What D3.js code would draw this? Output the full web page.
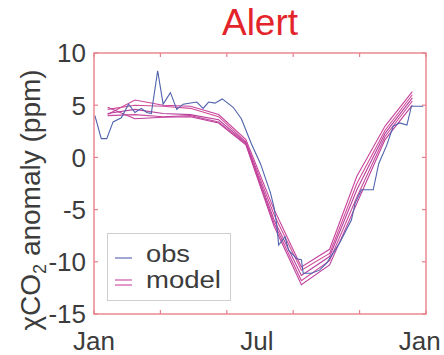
<!DOCTYPE html>
<html>
<head>
<meta charset="utf-8">
<script src="https://cdn.jsdelivr.net/npm/d3@7"></script>
<style>
  body { margin: 0; background: #fff; }
  text { font-family: "Liberation Sans", Arial, sans-serif; }
</style>
</head>
<body>
<div id="chart"></div>
<script>
/* Alert station, seasonal CO2 anomaly: obs vs model */

var title = 'Alert';
var yTicks = [-15, -10, -5, 0, 5, 10];
var xTickDays = [0, 73, 146, 219, 292, 365];
var xLabelDays = [0, 179, 358];
var xLabels = ['Jan', 'Jul', 'Jan'];

// observed anomaly (day of year, ppm)
var obsDays = [1, 8, 14, 21, 30, 38, 45, 52, 58, 63, 70, 76, 84, 91, 98,
  113, 120, 126, 133, 141, 153, 162, 173, 183, 194, 198, 201, 203, 210, 214,
  223, 228, 230, 239, 248, 256, 270, 283, 287, 294, 307, 313, 322, 329, 336,
  344, 349, 358, 362];
var obsValues = [4.0, 1.8, 1.8, 3.4, 3.8, 5.1, 4.3, 4.7, 4.3, 4.2, 8.3, 5.1,
  6.2, 4.6, 5.1, 5.3, 4.7, 5.3, 5.2, 5.6, 4.8, 3.7, 1.3, -0.6, -3.4, -4.8,
  -6.5, -8.4, -7.6, -8.9, -9.7, -9.8, -11.1, -11.1, -10.8, -10.1, -8.2, -6.0,
  -4.4, -3.1, -3.1, -0.6, 1.2, 3.0, 3.3, 3.1, 4.9, 4.9, 4.9];

// model runs, monthly means (mid-month)
var modelDays = [15, 45, 76, 106, 137, 167, 198, 228, 259, 289, 320, 350];
var model1 = [4.1, 5.5, 5.0, 4.9, 4.1, 1.7, -5.0, -10.5, -8.8, -1.8, 3.0, 6.3];
var model2 = [4.6, 5.0, 4.9, 4.7, 3.9, 1.5, -5.5, -10.8, -9.2, -2.5, 2.6, 6.0];
var model3 = [4.2, 4.6, 4.2, 4.1, 3.6, 1.4, -6.0, -11.3, -9.5, -3.1, 2.3, 5.7];
var model4 = [4.0, 4.1, 3.9, 4.0, 3.4, 1.3, -6.3, -11.8, -9.9, -3.8, 2.0, 5.4];
var model5 = [4.8, 3.7, 3.85, 3.9, 3.3, 1.2, -6.6, -12.2, -10.3, -4.4, 1.7, 5.0];
var models = [model1, model2, model3, model4, model5];

var width = 444;
var height = 355;
var margin = { top: 53, right: 18, bottom: 41, left: 94 };

var boxColor = '#e8808a';
var obsColor = '#4f62ad';
var modelColors = ['#c8449e', '#d04c98', '#b8409e', '#c84a9a', '#bf3f9c'];
var textColor = '#3c3c3c';

var svg = d3.select('#chart').append('svg')
  .attr('width', width)
  .attr('height', height);

var x = d3.scaleLinear()
  .domain([0, 365])
  .range([margin.left, width - margin.right]);
var y = d3.scaleLinear()
  .domain([-15, 10])
  .range([height - margin.bottom, margin.top]);

var line = d3.line()
  .x(function(d) { return x(d[0]); })
  .y(function(d) { return y(d[1]); });

/* model lines */
models.forEach(function(m, i) {
  svg.append('path')
    .datum(d3.zip(modelDays, m))
    .attr('d', line)
    .attr('fill', 'none')
    .attr('stroke', modelColors[i])
    .attr('stroke-width', 1.1);
});

/* obs line */
svg.append('path')
  .datum(d3.zip(obsDays, obsValues))
  .attr('d', line)
  .attr('fill', 'none')
  .attr('stroke', obsColor)
  .attr('stroke-width', 1.1);

/* box and ticks (inward, all four sides) */
var tick = 4;
var x0 = x.range()[0], x1 = x.range()[1];
var yb = y.range()[0], yt = y.range()[1];
var ticks = svg.append('g').attr('stroke', boxColor).attr('stroke-width', 1.2);
xTickDays.forEach(function(d) {
  ticks.append('line').attr('x1', x(d)).attr('x2', x(d)).attr('y1', yb).attr('y2', yb - tick);
  ticks.append('line').attr('x1', x(d)).attr('x2', x(d)).attr('y1', yt).attr('y2', yt + tick);
});
yTicks.forEach(function(v) {
  ticks.append('line').attr('x1', x0).attr('x2', x0 + tick).attr('y1', y(v)).attr('y2', y(v));
  ticks.append('line').attr('x1', x1).attr('x2', x1 - tick).attr('y1', y(v)).attr('y2', y(v));
});
svg.append('rect')
  .attr('x', x0).attr('y', yt)
  .attr('width', x1 - x0).attr('height', yb - yt)
  .attr('fill', 'none')
  .attr('stroke', boxColor)
  .attr('stroke-width', 1.4);

/* tick labels */
svg.append('g').selectAll('text').data(yTicks).enter()
  .append('text')
  .attr('x', x0 - 8)
  .attr('y', function(d) { return y(d); })
  .attr('dy', '0.36em')
  .attr('text-anchor', 'end')
  .attr('font-size', 26)
  .attr('fill', textColor)
  .text(function(d) { return d; });

svg.append('g').selectAll('text').data(xLabelDays).enter()
  .append('text')
  .attr('x', function(d) { return x(d); })
  .attr('y', 350)
  .attr('text-anchor', 'middle')
  .attr('font-size', 26)
  .attr('fill', textColor)
  .text(function(d, i) { return xLabels[i]; });

/* title */
svg.append('text')
  .attr('x', (x0 + x1) / 2)
  .attr('y', 35)
  .attr('text-anchor', 'middle')
  .attr('font-size', 37)
  .attr('fill', '#e3242b')
  .text(title);

/* y label */
var yl = svg.append('text')
  .attr('transform', 'translate(40,200) rotate(-90)')
  .attr('text-anchor', 'middle')
  .attr('font-size', 28)
  .attr('fill', textColor);
yl.append('tspan').text('\u03c7CO');
yl.append('tspan').attr('font-size', 18).attr('dy', 6).text('2');
yl.append('tspan').attr('dy', -6).text(' anomaly (ppm)');

/* legend */
var leg = svg.append('g');
leg.append('rect')
  .attr('x', 107.5).attr('y', 233.5)
  .attr('width', 123).attr('height', 67)
  .attr('fill', '#fff')
  .attr('stroke', '#cfcfcf');
leg.append('line')
  .attr('x1', 115).attr('x2', 132).attr('y1', 258).attr('y2', 258)
  .attr('stroke', obsColor).attr('stroke-width', 1.1);
[280, 285].forEach(function(ly) {
  leg.append('line')
    .attr('x1', 115).attr('x2', 132).attr('y1', ly).attr('y2', ly)
    .attr('stroke', modelColors[0]).attr('stroke-width', 1.1);
});
leg.append('text').attr('x', 146).attr('y', 262)
  .attr('font-size', 23).attr('fill', textColor)
  .attr('textLength', 44).attr('lengthAdjust', 'spacingAndGlyphs')
  .text('obs');
leg.append('text').attr('x', 146).attr('y', 288)
  .attr('font-size', 23).attr('fill', textColor)
  .attr('textLength', 75).attr('lengthAdjust', 'spacingAndGlyphs')
  .text('model');
</script>
</body>
</html>
